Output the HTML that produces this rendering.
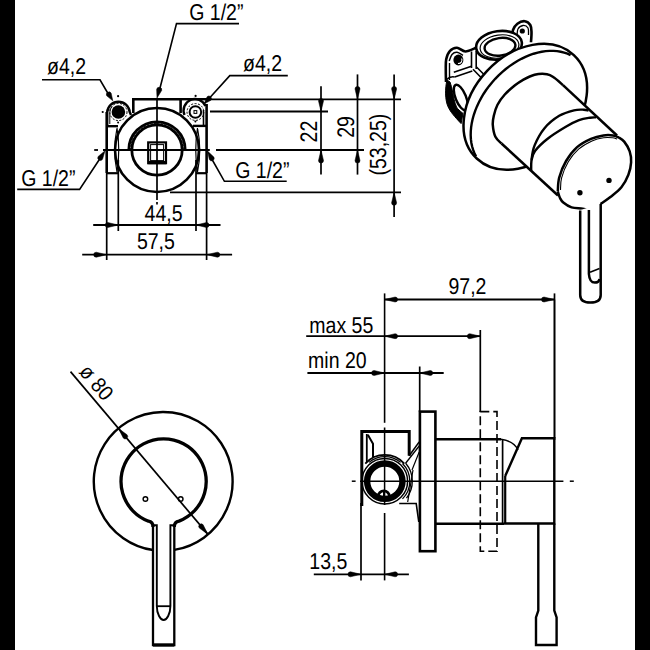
<!DOCTYPE html>
<html><head><meta charset="utf-8"><style>
html,body{margin:0;padding:0;background:#fff;}
body{width:650px;height:650px;overflow:hidden;position:relative;}
.bar{position:absolute;top:0;height:650px;background:#000;}
svg{position:absolute;left:0;top:0;}
text{font-family:"Liberation Sans",sans-serif;fill:#000;stroke:none;text-rendering:geometricPrecision;}
</style></head><body>
<div class="bar" style="left:0;width:14.8px"></div>
<div class="bar" style="left:634.8px;width:15.2px"></div>
<svg width="650" height="650" viewBox="0 0 650 650" fill="none" stroke="#000" stroke-linecap="butt">
<circle cx="157" cy="150" r="42" stroke-width="2.6" />
<circle cx="157" cy="150" r="25.2" stroke-width="2.8" />
<path d="M128.8,150 A28.2,28.2 0 0 1 185.2,150" stroke-width="2.8" />
<path d="M130.4,150 A26.6,26.6 0 0 1 183.6,150" stroke-width="1" stroke-dasharray="2 1.5"/>
<rect x="148.2" y="142.4" width="17.8" height="20.8" stroke-width="2.2" />
<rect x="150.6" y="144.6" width="13" height="16" stroke-width="1" />
<line x1="148.2" y1="162.6" x2="166" y2="162.6" stroke-width="3.2" />
<line x1="157" y1="100" x2="157" y2="200" stroke-width="1.7" />
<line x1="157" y1="202" x2="157" y2="204.5" stroke-width="1.7" />
<line x1="103" y1="150" x2="209.8" y2="150" stroke-width="1.8" />
<line x1="94.2" y1="150" x2="98" y2="150" stroke-width="1.8" />
<path d="M133.3,113 V99.2 H180.6 V113" stroke-width="2.6" />
<line x1="180" y1="99.2" x2="210" y2="99.2" stroke-width="2.4" />
<path d="M107.2,126 V112 A11.3,11.3 0 0 1 129.7,112 L131,115" stroke-width="2.4" />
<path d="M109.8,124 V112.5 A8.8,8.8 0 0 1 112,106.5" stroke-width="1" />
<line x1="106.7" y1="126.2" x2="118" y2="126.2" stroke-width="2.4" />
<circle cx="118.4" cy="112" r="6.8" fill="#000" stroke="none"/>
<circle cx="118.4" cy="112" r="8.6" stroke-width="1" stroke-dasharray="2 1.5"/>
<path d="M184.5,115 A11.2,11.2 0 0 1 205.5,106" stroke-width="2.4" />
<circle cx="195.4" cy="112" r="5.8" stroke-width="2" />
<circle cx="195.4" cy="112" r="8.4" stroke-width="1" stroke-dasharray="2 1.5"/>
<rect x="194" y="110.6" width="2.8" height="2.8" stroke-width="1" />
<line x1="203.5" y1="110" x2="203.5" y2="126" stroke-width="1.6" />
<line x1="193" y1="125.9" x2="206.6" y2="125.9" stroke-width="2.4" />
<line x1="106.7" y1="112" x2="106.7" y2="173" stroke-width="2.6" />
<line x1="106.7" y1="173" x2="106.7" y2="260" stroke-width="1.7" />
<line x1="106.7" y1="173.2" x2="118.3" y2="173.2" stroke-width="2.2" />
<line x1="118.3" y1="160" x2="118.3" y2="231" stroke-width="1.7" />
<line x1="206.6" y1="104" x2="206.6" y2="173" stroke-width="2.6" />
<line x1="206.6" y1="173" x2="206.6" y2="260" stroke-width="1.7" />
<line x1="196" y1="173.2" x2="206.6" y2="173.2" stroke-width="2.2" />
<line x1="196" y1="160" x2="196" y2="231" stroke-width="1.7" />
<path d="M117,128 Q112.5,150 117,172 Q120.5,150 117,128" stroke-width="1.2" />
<path d="M197.5,128 Q202,150 197.5,172 Q194,150 197.5,128" stroke-width="1.2" />
<line x1="210" y1="99.4" x2="401" y2="99.4" stroke-width="1.8" />
<line x1="210" y1="111.5" x2="328" y2="111.5" stroke-width="1.9" />
<line x1="216" y1="150" x2="364" y2="150" stroke-width="1.9" />
<line x1="170" y1="192.3" x2="401" y2="192.3" stroke-width="1.8" />
<line x1="321" y1="86.2" x2="321" y2="174.6" stroke-width="1.7" />
<path d="M321,111.5 L318.5,101 A2.5,2.5 0 0 1 323.5,101 Z" fill="#000" stroke="#000" stroke-width="0.5"/>
<path d="M321,150 L323.5,160.5 A2.5,2.5 0 0 1 318.5,160.5 Z" fill="#000" stroke="#000" stroke-width="0.5"/>
<line x1="357.5" y1="74.4" x2="357.5" y2="174.6" stroke-width="1.7" />
<path d="M357.5,99.4 L355,88.9 A2.5,2.5 0 0 1 360,88.9 Z" fill="#000" stroke="#000" stroke-width="0.5"/>
<path d="M357.5,150 L360,160.5 A2.5,2.5 0 0 1 355,160.5 Z" fill="#000" stroke="#000" stroke-width="0.5"/>
<line x1="394.1" y1="74.4" x2="394.1" y2="217" stroke-width="1.7" />
<path d="M394.1,99.4 L391.6,88.9 A2.5,2.5 0 0 1 396.6,88.9 Z" fill="#000" stroke="#000" stroke-width="0.5"/>
<path d="M394.1,192.3 L396.6,202.8 A2.5,2.5 0 0 1 391.6,202.8 Z" fill="#000" stroke="#000" stroke-width="0.5"/>
<line x1="93.2" y1="225" x2="220.5" y2="225" stroke-width="1.8" />
<path d="M118.3,225 L107.8,227.5 A2.5,2.5 0 0 1 107.8,222.5 Z" fill="#000" stroke="#000" stroke-width="0.5"/>
<path d="M196,225 L206.5,222.5 A2.5,2.5 0 0 1 206.5,227.5 Z" fill="#000" stroke="#000" stroke-width="0.5"/>
<line x1="82.2" y1="254.7" x2="232.1" y2="254.7" stroke-width="1.8" />
<path d="M106.7,254.7 L96.2,257.2 A2.5,2.5 0 0 1 96.2,252.2 Z" fill="#000" stroke="#000" stroke-width="0.5"/>
<path d="M206.8,254.7 L217.3,252.2 A2.5,2.5 0 0 1 217.3,257.2 Z" fill="#000" stroke="#000" stroke-width="0.5"/>
<path d="M239,23.6 H176.5 L160,88" stroke-width="1.6" />
<path d="M157,98 L156.62,89.22 A2.6,2.6 0 0 1 161.65,90.54 Z" fill="#000" stroke="#000" stroke-width="0.5"/>
<path d="M42,79.8 H100 L108,93.5" stroke-width="1.6" />
<path d="M112.8,100.8 L106.73,95.83 A2.6,2.6 0 0 1 111.17,93.13 Z" fill="#000" stroke="#000" stroke-width="0.5"/>
<path d="M287.8,75.6 H229.8 L210,97.5" stroke-width="1.6" />
<path d="M204,104 L207.08,96.79 A2.6,2.6 0 0 1 210.91,100.3 Z" fill="#000" stroke="#000" stroke-width="0.5"/>
<path d="M17.2,189.4 H79.6 L100,158.5" stroke-width="1.6" />
<path d="M105,150.8 L102.55,159.25 A2.6,2.6 0 0 1 98.21,156.39 Z" fill="#000" stroke="#000" stroke-width="0.5"/>
<path d="M286.7,181.3 H224.4 L211.5,158.5" stroke-width="1.6" />
<path d="M207.5,151 L213.86,157.07 A2.6,2.6 0 0 1 209.32,159.6 Z" fill="#000" stroke="#000" stroke-width="0.5"/>
<circle cx="118.1" cy="96.2" r="1.1" fill="#000" stroke="none"/>
<circle cx="102.7" cy="112" r="1.1" fill="#000" stroke="none"/>
<circle cx="118.1" cy="122.4" r="1" fill="#000" stroke="none"/>
<circle cx="195.6" cy="95.9" r="1.1" fill="#000" stroke="none"/>
<circle cx="195.4" cy="121.6" r="1" fill="#000" stroke="none"/>
<text transform="translate(189.2,20.3) scale(1,1.17)" font-size="19.5" >G 1/2”</text>
<text transform="translate(47,74.3) scale(1,1.17)" font-size="19.5" >ø4,2</text>
<text transform="translate(243,70.6) scale(1,1.17)" font-size="19.5" >ø4,2</text>
<text transform="translate(21.2,185.6) scale(1,1.17)" font-size="19.5" >G 1/2”</text>
<text transform="translate(235.2,177.6) scale(1,1.17)" font-size="19.5" >G 1/2”</text>
<text transform="translate(144.6,220.5) scale(1,1.17)" font-size="19.5" >44,5</text>
<text transform="translate(136.9,249.3) scale(1,1.17)" font-size="19.5" >57,5</text>
<text transform="translate(316.5,142.4) rotate(-90) scale(1,1.23)" font-size="19.5" >22</text>
<text transform="translate(353.5,137.8) rotate(-90) scale(1,1.23)" font-size="19.5" >29</text>
<text transform="translate(386.1,175.5) rotate(-90) scale(1,1.2)" font-size="19.5" >(53,25)</text>
<path d="M153,550.05 A69.4,69.4 0 1 1 174.3,549.91" stroke-width="2.4" />
<path d="M153,527 Q153,521.73 148.5,521.23 A42.6,42.6 0 1 1 179,521.12 Q174.3,521.62 174.3,527" stroke-width="3.3" stroke-linejoin="round"/>
<path d="M153,525 V645 H174.3 V525" stroke-width="2.3" />
<line x1="153" y1="645" x2="174.3" y2="645" stroke-width="3.2" />
<path d="M153,525.3 H156.8 V606 C156.8,614 160.5,620 163.6,620 C166.8,620 170.4,614 170.4,606 V525.3 H174.3" stroke-width="1.9" />
<line x1="156.8" y1="606.2" x2="170.4" y2="606.2" stroke-width="1.8" />
<circle cx="145.4" cy="499" r="2.3" stroke-width="1.4" />
<circle cx="180.7" cy="499" r="2.3" stroke-width="1.4" />
<line x1="70.5" y1="371.6" x2="207.99" y2="534.41" stroke-width="1.7" />
<path d="M118.41,428.39 L127.09,434.8 A2.5,2.5 0 0 1 123.27,438.03 Z" fill="#000" stroke="#000" stroke-width="0.5"/>
<path d="M207.99,534.41 L199.31,528 A2.5,2.5 0 0 1 203.13,524.77 Z" fill="#000" stroke="#000" stroke-width="0.5"/>
<text transform="translate(78.2,372.3) rotate(49.8) scale(1,1.1)" font-size="19.5" >ø 80</text>
<line x1="554.5" y1="293.4" x2="554.5" y2="440" stroke-width="1.7" />
<line x1="384.6" y1="299.5" x2="554.5" y2="299.5" stroke-width="1.8" />
<path d="M384.6,299.5 L395.1,297 A2.5,2.5 0 0 1 395.1,302 Z" fill="#000" stroke="#000" stroke-width="0.5"/>
<path d="M554.5,299.5 L544,302 A2.5,2.5 0 0 1 544,297 Z" fill="#000" stroke="#000" stroke-width="0.5"/>
<text transform="translate(448.5,293.6) scale(1,1.17)" font-size="19.5" >97,2</text>
<line x1="306.2" y1="336.2" x2="480.3" y2="336.2" stroke-width="1.8" />
<path d="M384.6,336.2 L395.1,333.7 A2.5,2.5 0 0 1 395.1,338.7 Z" fill="#000" stroke="#000" stroke-width="0.5"/>
<path d="M480.3,336.2 L469.8,338.7 A2.5,2.5 0 0 1 469.8,333.7 Z" fill="#000" stroke="#000" stroke-width="0.5"/>
<line x1="480.3" y1="330" x2="480.3" y2="412" stroke-width="1.7" />
<text transform="translate(309.3,332.6) scale(1,1.17)" font-size="19.5" >max 55</text>
<line x1="307.4" y1="373" x2="443.7" y2="373" stroke-width="1.8" />
<path d="M384.6,373 L374.1,375.5 A2.5,2.5 0 0 1 374.1,370.5 Z" fill="#000" stroke="#000" stroke-width="0.5"/>
<path d="M419.7,373 L430.2,370.5 A2.5,2.5 0 0 1 430.2,375.5 Z" fill="#000" stroke="#000" stroke-width="0.5"/>
<line x1="419.7" y1="366.5" x2="419.7" y2="412" stroke-width="1.7" />
<text transform="translate(308.1,368.3) scale(1,1.17)" font-size="19.5" >min 20</text>
<line x1="313.8" y1="574.3" x2="408.9" y2="574.3" stroke-width="1.8" />
<path d="M361,574.3 L350.5,576.8 A2.5,2.5 0 0 1 350.5,571.8 Z" fill="#000" stroke="#000" stroke-width="0.5"/>
<path d="M384.6,574.3 L395.1,571.8 A2.5,2.5 0 0 1 395.1,576.8 Z" fill="#000" stroke="#000" stroke-width="0.5"/>
<line x1="361" y1="503" x2="361" y2="580.4" stroke-width="1.7" />
<line x1="384.6" y1="513" x2="384.6" y2="580.4" stroke-width="1.6" />
<text transform="translate(309.3,568.8) scale(1,1.17)" font-size="19.5" >13,5</text>
<path d="M361.8,506 V431.6 H409.2 V455.8" stroke-width="3" />
<line x1="366.8" y1="434" x2="366.8" y2="462" stroke-width="1.8" />
<path d="M367.8,434.7 L373,443.7 V457" stroke-width="2" />
<circle cx="384.8" cy="481.2" r="17.7" stroke-width="6.4" />
<circle cx="384.8" cy="481.2" r="22.8" stroke-width="1.5" />
<path d="M365.26,463.6 A26.3,26.3 0 0 1 404.34,463.6" stroke-width="1.8" />
<path d="M368.99,462.36 A24.6,24.6 0 0 1 400.61,462.36" stroke-width="1.2" />
<path d="M402.48,463.52 A25,25 0 0 1 402.48,498.88" stroke-width="1.3" />
<path d="M405.87,463.52 A27.5,27.5 0 0 1 406.47,498.13" stroke-width="1.3" />
<path d="M378.2,496.5 A5.6,5.6 0 0 1 389.4,496.5" stroke-width="2.8" />
<line x1="383.8" y1="491" x2="383.8" y2="497.5" stroke-width="1.6" />
<path d="M409.2,455.8 L419.2,441.9" stroke-width="1.6" />
<path d="M405.4,463.5 L419.2,446" stroke-width="1.3" />
<path d="M412,470 L419.2,452" stroke-width="1.2" />
<path d="M399.2,503.5 H416.2 L418.8,522" stroke-width="1.6" />
<path d="M407.7,502 L413,470" stroke-width="1.2" />
<line x1="360" y1="481.2" x2="563.4" y2="481.2" stroke-width="1.5" />
<line x1="351.8" y1="481.2" x2="355.6" y2="481.2" stroke-width="1.5" />
<line x1="569.8" y1="481.2" x2="573.8" y2="481.2" stroke-width="1.5" />
<line x1="384.6" y1="293.4" x2="384.6" y2="422.8" stroke-width="1.6" />
<line x1="384.6" y1="427.5" x2="384.6" y2="430" stroke-width="1.6" />
<line x1="384.6" y1="431" x2="384.6" y2="505" stroke-width="1.5" />
<rect x="419.9" y="411.6" width="15.5" height="139.6" stroke-width="2.6" />
<path d="M435.4,439.3 H501 M435.4,523.8 H504" stroke-width="2.4" />
<line x1="502.6" y1="439.5" x2="502.6" y2="523.8" stroke-width="1.7" />
<line x1="505.2" y1="476" x2="505.2" y2="523.8" stroke-width="2.2" />
<rect x="480.3" y="411.6" width="16.7" height="139.6" stroke-width="1.6" stroke-dasharray="9 4"/>
<path d="M501,439.3 Q514,441 518,450" stroke-width="1.5" />
<path d="M505.2,476 L521.9,438.3 H554.3 V523.5 H504" stroke-width="2.4" />
<path d="M538.3,523.5 V610.5 L536,617.5 V645 H556.6 V617.5 L554.3,610.5 V523.5" stroke-width="2.4" />
<line x1="554.5" y1="299.5" x2="554.5" y2="438.3" stroke-width="1.5" />
<path d="M447,80 C445,88 444.8,100 448.2,107 C450.5,112 454,116 461.1,123.6 L463,113.4 C460,111 457.5,109 456.5,107 C454.5,102 453.5,97 452.8,93 C452,88 451,85 450,82 Z" fill="#000" stroke="#000" stroke-width="1"/>
<ellipse cx="460.8" cy="97.5" rx="5.2" ry="13.5" transform="rotate(-22 460.8 97.5)" stroke-width="2.4" />
<path d="M476.2,47.7 C474.4,48.33 468.6,51.5 465.4,51.5 C462.2,51.5 459.57,47.82 457,47.7 C454.43,47.58 451.8,48.88 450,50.8 C448.2,52.72 446.9,56 446.2,59.2 C445.5,62.4 445.83,66.2 445.8,70 C445.77,73.8 445.97,80 446,82" stroke-width="2.6" />
<path d="M449.2,61 C449.67,59.92 450.7,55.95 452,54.5 C453.3,53.05 455.17,52.15 457,52.3 C458.83,52.45 462,54.88 463,55.4" stroke-width="1.5" />
<ellipse cx="458.4" cy="60" rx="5" ry="5.4" fill="#000" stroke="none"/>
<path d="M461.6,58.6 A3.3,3.3 0 0 1 458,63.4" stroke-width="1.1" stroke="#fff"/>
<path d="M453.8,72.3 L471.5,66.2 M454.6,77 L472.3,71" stroke-width="1.6" />
<path d="M471.5,51.5 V68 M476.2,51 V69" stroke-width="1.6" />
<path d="M473,69.2 L481,77.5 M476.5,67 L484,74.5" stroke-width="1.6" />
<path d="M449.5,63 L449.5,80 M446,80 Q450,76 454.6,77" stroke-width="1.4" />
<path d="M512.5,38 C512.58,36.67 512.18,32.38 513,30 C513.82,27.62 515.43,25.17 517.4,23.7 C519.37,22.23 522.65,20.98 524.8,21.2 C526.95,21.42 529.18,23.15 530.3,25 C531.42,26.85 531.38,29.43 531.5,32.3 C531.62,35.17 531.08,40.55 531,42.2" stroke-width="2.6" fill="#fff"/>
<path d="M517,37 C517.17,35.67 517,30.92 518,29 C519,27.08 521.33,25.67 523,25.5 C524.67,25.33 527.08,26.42 528,28 C528.92,29.58 528.42,33.83 528.5,35" stroke-width="1.3" />
<circle cx="522.3" cy="31" r="2.6" fill="#000" stroke="none"/>
<ellipse cx="499" cy="45.3" rx="23" ry="14.2" transform="rotate(-8 499 45.3)" stroke-width="2.6" fill="#fff"/>
<ellipse cx="499.5" cy="46.5" rx="19.5" ry="11.5" transform="rotate(-8 499.5 46.5)" stroke-width="1.2" />
<ellipse cx="500" cy="46.8" rx="15.5" ry="8.8" transform="rotate(-8 500 46.8)" stroke-width="2.4" fill="#fff"/>
<ellipse cx="525.3" cy="106.8" rx="70.9" ry="52.4" transform="rotate(-46.8 525.3 106.8)" stroke-width="2.5" fill="#fff"/>
<path d="M476.03,156.29 L474.47,153.22 L473.17,149.96 L472.14,146.52 L471.38,142.93 L470.9,139.19 L470.69,135.33 L470.77,131.36 L471.12,127.31 L471.75,123.18 L472.65,119.01 L473.82,114.8 L475.26,110.58 L476.96,106.38 L478.9,102.2 L481.09,98.07 L483.5,94.01 L486.14,90.03 L488.98,86.16 L492.02,82.41 L495.23,78.8 L498.61,75.35 L502.14,72.07 L505.8,68.99 L509.58,66.1 L513.45,63.43 L517.4,60.99 L521.41,58.8 L525.47,56.85 L529.54,55.16 L533.62,53.74 L537.69,52.6 L541.72,51.74 L545.7,51.16 L549.61,50.86 L553.43,50.86 L557.14,51.14 L560.72,51.71 L564.17,52.56 L567.45,53.69 L570.57,55.1" stroke-width="2.4" />
<path d="M557.5,196 L501.5,143.5 L501.5,143.5 C500.48,142.38 496.85,139.88 495.4,136.8 C493.95,133.72 493.07,128.5 492.8,125 C492.53,121.5 493.02,119.18 493.8,115.8 C494.58,112.42 495.67,108.25 497.5,104.7 C499.33,101.15 501.88,97.73 504.8,94.5 C507.72,91.27 512.08,87.67 515,85.3 C517.92,82.93 519.03,82.05 522.3,80.3 C525.57,78.55 530.48,75.82 534.6,74.8 C538.72,73.78 543.72,73.7 547,74.2 C550.28,74.7 551.63,75.97 554.3,77.8 C556.97,79.63 561.55,83.97 563,85.2 L616,135 L630,160 L557.5,196 Z" fill="#fff" stroke="none"/>
<path d="M501.5,143.5 C500.48,142.38 496.85,139.88 495.4,136.8 C493.95,133.72 493.07,128.5 492.8,125 C492.53,121.5 493.02,119.18 493.8,115.8 C494.58,112.42 495.67,108.25 497.5,104.7 C499.33,101.15 501.88,97.73 504.8,94.5 C507.72,91.27 512.08,87.67 515,85.3 C517.92,82.93 519.03,82.05 522.3,80.3 C525.57,78.55 530.48,75.82 534.6,74.8 C538.72,73.78 543.72,73.7 547,74.2 C550.28,74.7 551.63,75.97 554.3,77.8 C556.97,79.63 561.55,83.97 563,85.2" stroke-width="2.5" />
<path d="M563,85.2 L617,135.5" stroke-width="2.5" />
<path d="M501.5,143.5 L558,195.5" stroke-width="2.5" />
<path d="M531.2,170.8 C531.25,169 530.93,164.23 531.5,160 C532.07,155.77 532.43,150.7 534.6,145.4 C536.77,140.1 540.4,133.13 544.5,128.2 C548.6,123.27 554.28,118.78 559.2,115.8 C564.12,112.82 569.9,111.32 574,110.3 C578.1,109.28 581.38,109.65 583.8,109.7 C586.22,109.75 587.72,110.45 588.5,110.6" stroke-width="2.4" />
<path d="M531.6,160 C532.17,158.5 532.43,154.47 535,151 C537.57,147.53 541.93,143.2 547,139.2 C552.07,135.2 560.07,130.17 565.4,127 C570.73,123.83 574.9,121.75 579,120.2 C583.1,118.65 587.17,118.17 590,117.7 C592.83,117.23 595,117.45 596,117.4" stroke-width="2.4" />
<path d="M557.8,191.4 C558.03,189.1 557.82,182.67 559.2,177.6 C560.58,172.53 563.12,166.08 566.1,161 C569.08,155.92 572.95,150.8 577.1,147.1 C581.25,143.4 586.62,140.75 591,138.8 C595.38,136.85 599.72,135.97 603.4,135.4 C607.08,134.83 610.55,135.05 613.1,135.4 C615.65,135.75 616.85,136.47 618.7,137.5 C620.55,138.53 622.37,139.3 624.2,141.6 C626.03,143.9 628.55,147.83 629.7,151.3 C630.85,154.77 631.32,158.48 631.1,162.4 C630.88,166.32 630.02,170.65 628.4,174.8 C626.78,178.95 624.4,183.6 621.4,187.3 C618.4,191 613.88,194.22 610.4,197 C606.92,199.78 602.15,202.83 600.5,204 L600.7,215 L580,215 L563,203 Z" fill="#fff" stroke="none"/>
<path d="M557.8,191.4 C558.03,189.1 557.82,182.67 559.2,177.6 C560.58,172.53 563.12,166.08 566.1,161 C569.08,155.92 572.95,150.8 577.1,147.1 C581.25,143.4 586.62,140.75 591,138.8 C595.38,136.85 599.72,135.97 603.4,135.4 C607.08,134.83 610.55,135.05 613.1,135.4 C615.65,135.75 616.85,136.47 618.7,137.5 C620.55,138.53 622.37,139.3 624.2,141.6 C626.03,143.9 628.55,147.83 629.7,151.3 C630.85,154.77 631.32,158.48 631.1,162.4 C630.88,166.32 630.02,170.65 628.4,174.8 C626.78,178.95 624.4,183.6 621.4,187.3 C618.4,191 613.88,194.22 610.4,197 C606.92,199.78 602.15,202.83 600.5,204" stroke-width="2.5" />
<path d="M560.5,190 C560.68,187.97 560.3,182.5 561.6,177.8 C562.9,173.1 565.47,166.57 568.3,161.8 C571.13,157.03 574.65,152.67 578.6,149.2 C582.55,145.73 587.83,142.9 592,141 C596.17,139.1 600.18,138.33 603.6,137.8 C607.02,137.27 610.27,137.6 612.5,137.8 C614.73,138 616.25,138.8 617,139" stroke-width="1.1" />
<path d="M557.8,191.4 C558.17,192.5 559.08,196.15 560,198 C560.92,199.85 561.37,200.93 563.3,202.5 C565.23,204.07 568.37,206.37 571.6,207.4 C574.83,208.43 579.82,208.18 582.7,208.7 C585.58,209.22 587.87,210.2 588.9,210.5" stroke-width="2.5" />
<circle cx="579.9" cy="192.8" r="2.7" fill="#000" stroke="none"/>
<circle cx="609" cy="180.4" r="2.7" fill="#000" stroke="none"/>
<path d="M580.2,210 V296 Q580.2,302.6 590.4,302.6 Q600.7,302.6 600.7,296 V204 Z" fill="#fff" stroke="none"/>
<path d="M580.2,210.5 V295 Q580.2,302.6 590.4,302.6 Q600.7,302.6 600.7,295 V204" stroke-width="2.5" />
<path d="M588.9,210 V274 Q589.5,282.6 594.8,282.6 Q599,282.6 599.5,279" stroke-width="2.5" />
<path d="M590,272.3 L599.5,268.6" stroke-width="1.6" />
</svg>
</body></html>
